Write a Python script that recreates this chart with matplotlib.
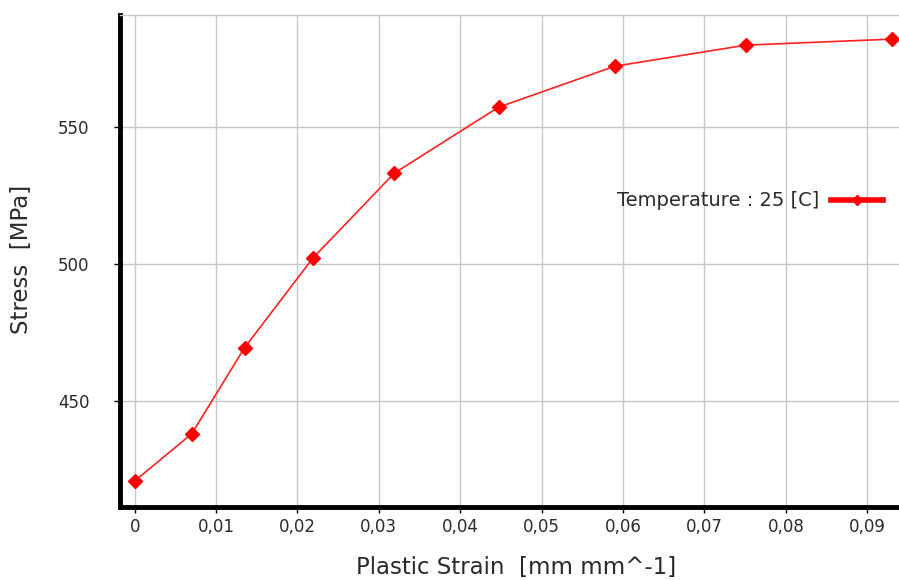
import numpy as np
import matplotlib.pyplot as plt
from matplotlib.lines import Line2D

strain = [0.0, 0.0070, 0.0135, 0.0219, 0.0319, 0.0447, 0.0590, 0.0751, 0.0931]
stress = [420.7, 437.9, 469.4, 502.2, 533.2, 557.3, 572.3, 580.0, 582.2]

xticks = [0, 0.01, 0.02, 0.03, 0.04, 0.05, 0.06, 0.07, 0.08, 0.09]
xtick_labels = ['0', '0,01', '0,02', '0,03', '0,04', '0,05', '0,06', '0,07', '0,08', '0,09']
yticks = [450, 500, 550]
legend_label = 'Temperature : 25 [C]'

fig = plt.figure(figsize=(8.99, 5.8), dpi=100)
ax = fig.add_axes([0.1335, 0.1259, 0.8665, 0.8482])

ax.plot(strain, stress, color='#ff2020', lw=1.2, marker='D', ms=7,
        mfc='red', mec='red', zorder=3, clip_on=False)

ax.set_xlim(-0.0018, 0.0939)
ax.set_ylim(411.2, 591)
ax.set_xticks(xticks)
ax.set_xticklabels(xtick_labels)
ax.set_yticks(yticks)
ax.grid(True, color='#c8c8c8', lw=1)
ax.set_axisbelow(True)

for s in ['left', 'bottom']:
    ax.spines[s].set_linewidth(3.5)
    ax.spines[s].set_color('black')
ax.spines['top'].set_color('#c8c8c8')
ax.spines['top'].set_linewidth(1)
ax.spines['right'].set_visible(False)

ax.tick_params(axis='both', labelsize=12, labelcolor='#2a2a2a', color='black',
               length=4, width=1)
ax.tick_params(axis='x', pad=4)
ax.tick_params(axis='y', pad=18)

ax.set_xlabel('Plastic Strain  [mm mm^-1]', fontsize=16.5, color='#2a2a2a', va='center')
ax.xaxis.set_label_coords(0.508, -0.124)
ax.set_ylabel('Stress  [MPa]', fontsize=16.5, color='#2a2a2a', va='center')
ax.yaxis.set_label_coords(-0.126, 0.504)

handle = Line2D([], [], color='red', lw=4, marker='D', ms=5)
ax.legend([handle], [legend_label], loc='center right', bbox_to_anchor=(0.99, 0.622),
          frameon=False, markerfirst=False, fontsize=14, handlelength=2.7,
          handletextpad=0.6, borderaxespad=0, labelcolor='#2a2a2a')

fig.savefig('out.png', dpi=100)
